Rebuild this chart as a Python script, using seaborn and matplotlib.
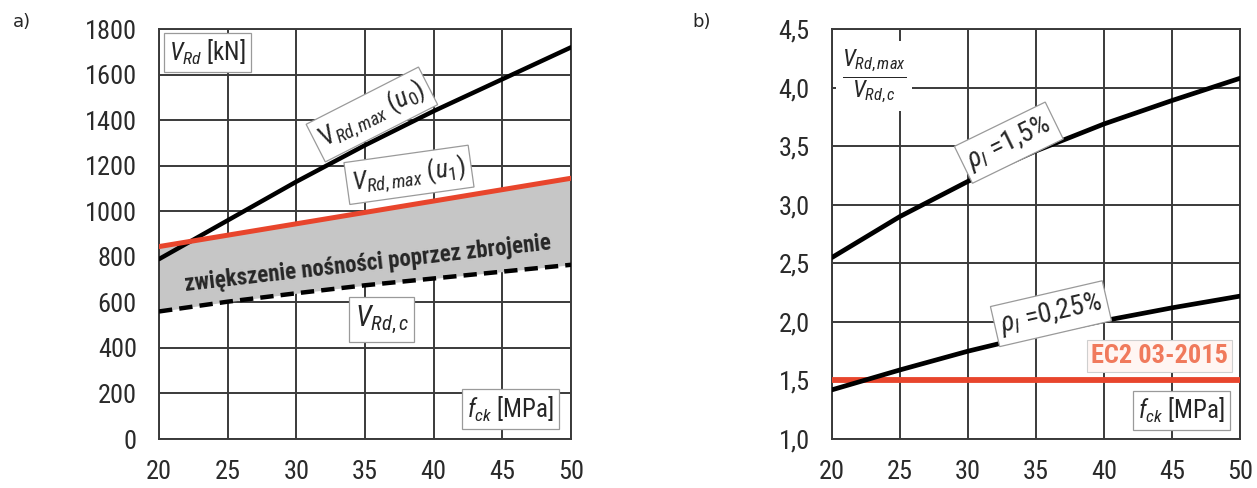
import numpy as np
import pandas as pd
import matplotlib
matplotlib.use("Agg")
import matplotlib.pyplot as plt
import seaborn as sns

# concrete class f_ck [MPa]
fck = [20, 25, 30, 35, 40, 45, 50]

# panel a) shear resistances [kN]
v_rd_max_u0 = [790, 960, 1130, 1290, 1440, 1580, 1720]
v_rd_max_u1 = [845, 895, 945, 995, 1045, 1095, 1145]
v_rd_c = [560, 603, 640, 675, 705, 735, 765]

# panel b) ratio V_Rd,max / V_Rd,c
ratio_rho_150 = [2.55, 2.90, 3.20, 3.46, 3.69, 3.89, 4.08]
ratio_rho_025 = [1.42, 1.59, 1.75, 1.89, 2.01, 2.12, 2.22]
ec2_limit = [1.5, 1.5, 1.5, 1.5, 1.5, 1.5, 1.5]

yticks_a = [0, 200, 400, 600, 800, 1000, 1200, 1400, 1600, 1800]
yticks_b = [1.0, 1.5, 2.0, 2.5, 3.0, 3.5, 4.0, 4.5]

sns.set_style("white")
FONT = "Roboto Condensed"
plt.rcParams["font.family"] = [FONT, "DejaVu Sans"]
plt.rcParams["mathtext.fontset"] = "custom"
plt.rcParams["mathtext.rm"] = FONT
plt.rcParams["mathtext.it"] = FONT + ":italic"
plt.rcParams["mathtext.bf"] = FONT + ":bold"

GRID = "#3a3a3a"
RED = "#e8452c"
FILL = "#c6c6c6"

df_a = pd.DataFrame({"fck": fck, "u0": v_rd_max_u0, "u1": v_rd_max_u1, "c": v_rd_c})
df_b = pd.DataFrame({"fck": fck, "r150": ratio_rho_150, "r025": ratio_rho_025, "ec2": ec2_limit})

fig = plt.figure(figsize=(12.57, 4.88), dpi=100)
ax1 = fig.add_axes([0.1265, 0.1004, 0.3278, 0.840])
ax2 = fig.add_axes([0.6619, 0.1004, 0.3246, 0.840])


def style_axis(ax, yticks, ylim, fmt):
    ax.set_xlim(20, 50)
    ax.set_ylim(*ylim)
    ax.set_xticks(fck)
    ax.set_yticks(yticks)
    ax.set_yticklabels([fmt(v) for v in yticks])
    ax.grid(True, color=GRID, linewidth=1.4)
    ax.set_axisbelow(True)
    for s in ax.spines.values():
        s.set_color(GRID)
        s.set_linewidth(1.4)
    ax.tick_params(axis="both", direction="out", length=8, width=1.4,
                   color=GRID, labelsize=19, labelcolor="#2a2a2a")
    ax.tick_params(axis="y", pad=8)
    ax.tick_params(axis="x", pad=7)
    ax.set_xlabel("")
    ax.set_ylabel("")


box = dict(boxstyle="square,pad=0.2", fc="white", ec="#9a9a9a", lw=0.9)

# ---- panel a)
ax1.fill_between(df_a["fck"], df_a["c"], df_a["u1"], color=FILL, lw=0, zorder=1)
sns.lineplot(data=df_a, x="fck", y="u0", color="black", lw=3.2, ax=ax1, zorder=4)
sns.lineplot(data=df_a, x="fck", y="u1", color=RED, lw=3.6, ax=ax1, zorder=5)
sns.lineplot(data=df_a, x="fck", y="c", color="black", lw=3.2, ax=ax1, zorder=4)
ax1.lines[-1].set_dashes([3.0, 1.6])
style_axis(ax1, yticks_a, (0, 1800), lambda v: f"{v:d}")

ax1.text(20.75, 1698, r"$V_{Rd}$ [kN]", fontsize=18, va="center", ha="left",
         bbox=box, zorder=6)
ax1.text(35.5, 1425, r"V$_{Rd,max}$ ($u_0$)", fontsize=19, rotation=27,
         ha="center", va="center", bbox=box, zorder=6)
ax1.text(38.2, 1160, r"$V_{Rd,max}$ ($u_1$)", fontsize=19, rotation=8,
         ha="center", va="center", bbox=box, zorder=6)
ax1.text(35.2, 770, "zwiększenie nośności poprzez zbrojenie", fontsize=16.5,
         fontweight="bold", color="#262626", rotation=6.5,
         ha="center", va="center", zorder=6)
ax1.text(36.2, 525, r"$V_{Rd,c}$", fontsize=21, ha="center", va="center",
         bbox=box, zorder=6)
ax1.text(45.6, 132, r"$f_{ck}$ [MPa]", fontsize=18, ha="center", va="center",
         bbox=box, zorder=6)

# ---- panel b)
sns.lineplot(data=df_b, x="fck", y="ec2", color=RED, lw=4.2, ax=ax2, zorder=3)
sns.lineplot(data=df_b, x="fck", y="r150", color="black", lw=3.4, ax=ax2, zorder=4)
sns.lineplot(data=df_b, x="fck", y="r025", color="black", lw=3.4, ax=ax2, zorder=4)
style_axis(ax2, yticks_b, (1.0, 4.5), lambda v: f"{v:.1f}".replace(".", ","))

ax2.text(23.1, 4.10, r"$\dfrac{V_{Rd,max}}{V_{Rd,c}}$", fontsize=17, ha="center",
         va="center", bbox=dict(boxstyle="square,pad=0.25", fc="white", ec="none"),
         zorder=6)
ax2.text(33.0, 3.53, r"$\rho_l$ =1,5%", fontsize=20, rotation=26,
         ha="center", va="center", bbox=box, zorder=6)
ax2.text(36.1, 2.07, r"$\rho_l$ =0,25%", fontsize=20, rotation=13,
         ha="center", va="center", bbox=box, zorder=6)
ax2.text(44.1, 1.71, "EC2 03-2015", fontsize=19, fontweight="bold",
         color="#f07a5c", ha="center", va="center",
         bbox=dict(boxstyle="square,pad=0.15", fc="#fff6f3", ec="#cfcfcf", lw=0.8),
         zorder=6)
ax2.text(45.7, 1.245, r"$f_{ck}$ [MPa]", fontsize=18, ha="center", va="center",
         bbox=box, zorder=6)

fig.text(0.010, 0.955, "a)", fontsize=13, family="DejaVu Sans", va="center")
fig.text(0.551, 0.955, "b)", fontsize=13, family="DejaVu Sans", va="center")

fig.savefig("out.png", dpi=100)
